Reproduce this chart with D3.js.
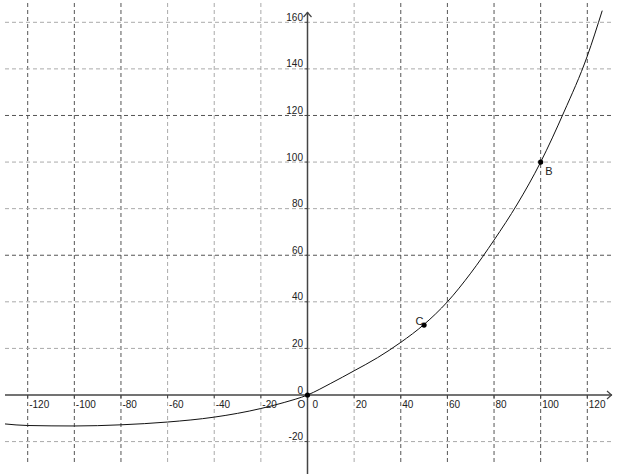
<!DOCTYPE html>
<html>
<head>
<meta charset="utf-8">
<script src="https://cdn.jsdelivr.net/npm/d3@7"></script>
<style>
  body { margin: 0; background: #fff; }
  svg { display: block; font-family: 'Liberation Sans', Arial, sans-serif; }
</style>
</head>
<body>
<svg id="chart" width="625" height="474"></svg>
<script>
// curve
const curveX = [-130, -120, -100, -80, -60, -40, -20, -10, 0, 10, 20, 30, 40, 50, 60, 70, 80, 90, 100, 110, 120, 126.4];
const curveY = [-12.4, -13.1, -13.3, -12.8, -11.6, -9.5, -5.8, -3.2, 0, 5, 10.4, 16, 22.6, 30.3, 40, 52.3, 66.5, 82, 100, 121.5, 145.5, 165];

const pointNames = ['O', 'C', 'B'];
const pointX = [0, 50, 100];
const pointY = [0, 30, 100];

const xTicks = [-120, -100, -80, -60, -40, -20, 0, 20, 40, 60, 80, 100, 120];
const yTicks = [-20, 0, 20, 40, 60, 80, 100, 120, 140, 160];
const darkX = [-120, -100, -80, 40, 60, 80, 100, 120];
const darkY = [60, 120];

const svg = d3.select('#chart');
const x = d3.scaleLinear().domain([0, 120]).range([307.5, 587.3]);
const y = d3.scaleLinear().domain([0, 160]).range([395, 22.3]);
const plot = { left: 5, right: 614, top: 3, bottom: 463 };

svg.append('defs').append('clipPath').attr('id', 'clip')
  .append('rect')
  .attr('x', plot.left).attr('y', plot.top)
  .attr('width', plot.right - plot.left).attr('height', plot.bottom - plot.top);

// grid
const grid = svg.append('g').attr('class', 'grid');
grid.selectAll('line.gx')
  .data(xTicks.filter(d => d !== 0))
  .enter().append('line')
  .attr('class', 'gx')
  .attr('x1', d => x(d)).attr('x2', d => x(d))
  .attr('y1', plot.top).attr('y2', plot.bottom)
  .attr('stroke', d => darkX.includes(d) ? '#555' : '#aaa')
  .attr('stroke-dasharray', '4,3');
grid.selectAll('line.gy')
  .data(yTicks.filter(d => d !== 0))
  .enter().append('line')
  .attr('class', 'gy')
  .attr('x1', plot.left).attr('x2', plot.right)
  .attr('y1', d => y(d)).attr('y2', d => y(d))
  .attr('stroke', d => darkY.includes(d) ? '#555' : '#aaa')
  .attr('stroke-dasharray', '4,3');

// axes
const axes = svg.append('g').attr('class', 'axes').attr('stroke', '#444').attr('fill', 'none');
axes.append('line')
  .attr('x1', plot.left).attr('x2', 612)
  .attr('y1', y(0)).attr('y2', y(0))
  .attr('stroke-width', 1.5);
axes.append('path')
  .attr('d', `M607,${y(0) - 4}L611.5,${y(0)}L607,${y(0) + 4}`)
  .attr('stroke-width', 1.2);
axes.append('line')
  .attr('x1', x(0)).attr('x2', x(0))
  .attr('y1', 12).attr('y2', 474)
  .attr('stroke-width', 1.5);
axes.append('path')
  .attr('d', `M${x(0) - 4},17L${x(0)},12.5L${x(0) + 4},17`)
  .attr('stroke-width', 1.2);

axes.selectAll('line.tx')
  .data(xTicks.filter(d => d !== 0))
  .enter().append('line')
  .attr('x1', d => x(d)).attr('x2', d => x(d))
  .attr('y1', y(0)).attr('y2', y(0) + 3);
axes.selectAll('line.ty')
  .data(yTicks.filter(d => d !== 0))
  .enter().append('line')
  .attr('x1', x(0) - 3).attr('x2', x(0))
  .attr('y1', d => y(d)).attr('y2', d => y(d));

// tick labels
const labels = svg.append('g').attr('fill', '#222').attr('font-size', '10px');
labels.selectAll('text.lx')
  .data(xTicks)
  .enter().append('text')
  .attr('x', d => x(d) + (d === 0 ? 5 : 1.5))
  .attr('y', y(0) + 13)
  .text(d => d);
labels.selectAll('text.ly')
  .data(yTicks)
  .enter().append('text')
  .attr('text-anchor', 'end')
  .attr('x', x(0) - 4.5)
  .attr('y', d => y(d) - 1.5)
  .text(d => d);

// curve
const line = d3.line()
  .x(d => x(d[0]))
  .y(d => y(d[1]))
  .curve(d3.curveMonotoneX);
svg.append('path')
  .datum(curveX.map((d, i) => [d, curveY[i]]))
  .attr('clip-path', 'url(#clip)')
  .attr('fill', 'none')
  .attr('stroke', '#111')
  .attr('stroke-width', 1)
  .attr('d', line);

// points
const labelOffset = { O: [-10, 13, 10], C: [-8.5, 0, 11], B: [4.5, 13, 11] };
const pts = svg.append('g').attr('class', 'points');
pointNames.forEach((name, i) => {
  const px = x(pointX[i]);
  const py = y(pointY[i]);
  pts.append('circle')
    .attr('cx', px).attr('cy', py)
    .attr('r', 2.6)
    .attr('fill', '#000');
  pts.append('text')
    .attr('x', px + labelOffset[name][0])
    .attr('y', py + labelOffset[name][1])
    .attr('font-size', labelOffset[name][2] + 'px')
    .attr('fill', '#222')
    .text(name);
});
</script>
</body>
</html>
